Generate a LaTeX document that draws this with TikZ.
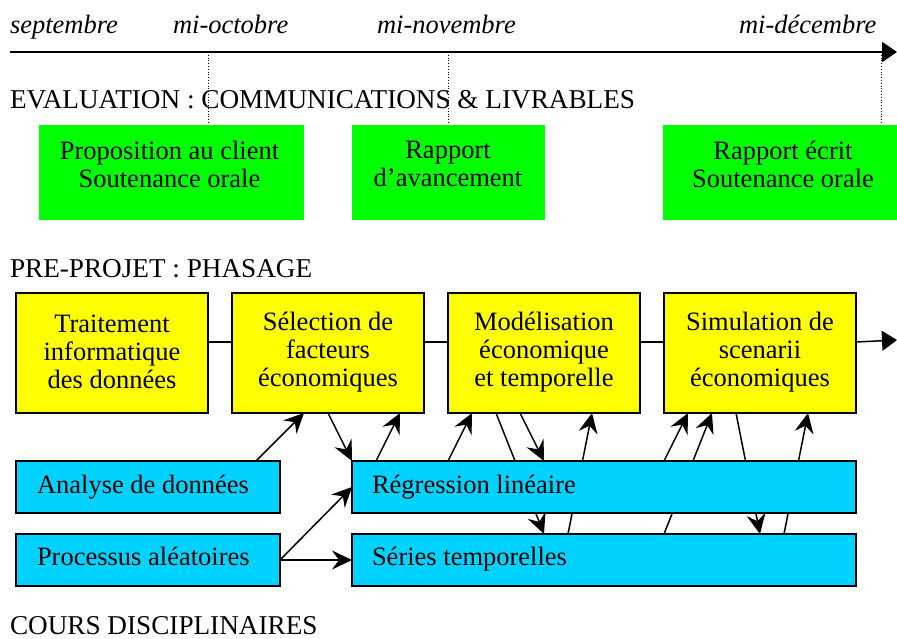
\documentclass[tikz,border=0pt]{standalone}
\usepackage{fontspec}
\setmainfont{Liberation Serif}
\usetikzlibrary{arrows.meta,backgrounds}
\definecolor{grn}{RGB}{0,255,0}
\definecolor{ylw}{RGB}{255,255,0}
\definecolor{cyn}{RGB}{0,210,255}
\tikzset{
  txt/.style={font=\fontsize{26.5}{28}\selectfont, inner sep=0pt, outer sep=0pt},
  htxt/.style={font=\fontsize{27.2}{28}\selectfont, inner sep=0pt, outer sep=0pt},
  gbox/.style={fill=grn, anchor=north west, minimum width=#1, minimum height=95pt, inner sep=0pt, outer sep=0pt},
  ybox/.style={fill=ylw, draw=black, line width=1.5pt, anchor=north west, minimum width=192pt, minimum height=120pt, inner sep=0pt, outer sep=0pt},
  cbox/.style={fill=cyn, draw=black, line width=1.5pt, anchor=north west, minimum width=#1, minimum height=52pt, inner sep=0pt, outer sep=0pt},
  conn/.style={line width=1.5pt, arrows={-Stealth[length=20pt 0 0, width=19pt 0 0, inset=7pt 0]}},
  plain/.style={line width=1.5pt},
  bigarrow/.style={line width=2.5pt, -{Triangle[length=15pt,width=20pt]}},
  dotline/.style={line width=0.8pt, dotted},
}
\begin{document}
\begin{tikzpicture}[x=1pt,y=-1pt]
\useasboundingbox (0,0) rectangle (897,639);
% timeline
\coordinate (tl0) at (10,52);
\coordinate (tl1) at (897,52);
\draw[bigarrow] (tl0) -- (tl1);
\node[txt, anchor=base west] (lsep) at (10,34) {\itshape septembre};
\node[txt, anchor=base west] (loct) at (173,34) {\itshape mi-octobre};
\node[txt, anchor=base west] (lnov) at (377,34) {\itshape mi-novembre};
\node[txt, anchor=base west] (ldec) at (739,34) {\itshape mi-décembre};
\coordinate (d1t) at (208,52); \coordinate (d1b) at (208,125);
\coordinate (d2t) at (448,52); \coordinate (d2b) at (448,125);
\coordinate (d3t) at (881,52); \coordinate (d3b) at (881,125);
\draw[dotline] (d1t) -- (d1b);
\draw[dotline] (d2t) -- (d2b);
\draw[dotline] (d3t) -- (d3b);
% evaluation
\node[htxt, anchor=base west] (heval) at (10,109) {EVALUATION : COMMUNICATIONS \& LIVRABLES};
\node[gbox=265pt] (g1) at (39,125) {};
\node[gbox=193pt] (g2) at (352,125) {};
\node[gbox=234pt] (g3) at (663,125) {};
\node[txt, align=center] (g1t) at (169.5,164) {Proposition au client\\Soutenance orale};
\node[txt, align=center] (g2t) at (448,164) {Rapport\\d’avancement};
\node[txt, align=center] (g3t) at (783,164) {Rapport écrit\\Soutenance orale};
% pre-projet
\node[htxt, anchor=base west] (hpre) at (10,277) {PRE-PROJET : PHASAGE};
\node[ybox] (y1) at (16,293) {};
\node[ybox] (y2) at (232,293) {};
\node[ybox] (y3) at (448,293) {};
\node[ybox] (y4) at (664,293) {};
\node[txt, align=center] (y1t) at (112,352) {Traitement\\informatique\\des données};
\node[txt, align=center] (y2t) at (328,352) {Sélection de\\facteurs\\économiques};
\node[txt, align=center] (y3t) at (544,352) {Modélisation\\économique\\et temporelle};
\node[txt, align=center] (y4t) at (760,352) {Simulation de\\scenarii\\économiques};
\draw[plain] ([yshift=11pt]y1.east) -- ([yshift=11pt]y2.west);
\draw[plain] ([yshift=11pt]y2.east) -- ([yshift=11pt]y3.west);
\draw[plain] ([yshift=11pt]y3.east) -- ([yshift=11pt]y4.west);
\coordinate (yend) at (897,340);
\draw[line width=1.5pt, -{Triangle[length=15pt,width=20pt]}] ([yshift=11pt]y4.east) -- (yend);
% courses
\node[cbox=264pt] (an) at (16,461) {};
\node[cbox=264pt] (pa) at (16,534) {};
\node[cbox=504pt] (rl) at (352,461) {};
\node[cbox=504pt] (st) at (352,534) {};
\node[txt, anchor=base west] (ant) at (37,493) {Analyse de données};
\node[txt, anchor=base west] (pat) at (37,565) {Processus aléatoires};
\node[txt, anchor=base west] (rlt) at (372,493) {Régression linéaire};
\node[txt, anchor=base west] (stt) at (372,565) {Séries temporelles};
\node[htxt, anchor=base west] (hcours) at (10,634) {COURS DISCIPLINAIRES};
\begin{scope}[on background layer]
\draw[conn] ([xshift=-24pt]an.north east) -- ([xshift=72pt]y2.south west);
\draw[conn] ([xshift=96pt]y2.south west) -- (rl.north west);
\draw[conn] ([xshift=24pt]rl.north west) -- ([xshift=168pt]y2.south west);
\draw[conn] (pa.east) -- (rl.west);
\draw[conn] (pa.east) -- (st.west);
\draw[conn] ([xshift=96pt]rl.north west) -- ([xshift=24pt]y3.south west);
\draw[conn] ([xshift=48pt]y3.south west) -- ([xshift=192pt]st.north west);
\draw[conn] ([xshift=72pt]y3.south west) -- ([xshift=192pt]rl.north west);
\draw[conn] ([xshift=216pt]st.north west) -- ([xshift=144pt]y3.south west);
\draw[conn] ([xshift=312pt]rl.north west) -- ([xshift=24pt]y4.south west);
\draw[conn] ([xshift=312pt]st.north west) -- ([xshift=48pt]y4.south west);
\draw[conn] ([xshift=72pt]y4.south west) -- ([xshift=408pt]st.north west);
\draw[conn] ([xshift=432pt]st.north west) -- ([xshift=144pt]y4.south west);
\end{scope}
\end{tikzpicture}
\end{document}
